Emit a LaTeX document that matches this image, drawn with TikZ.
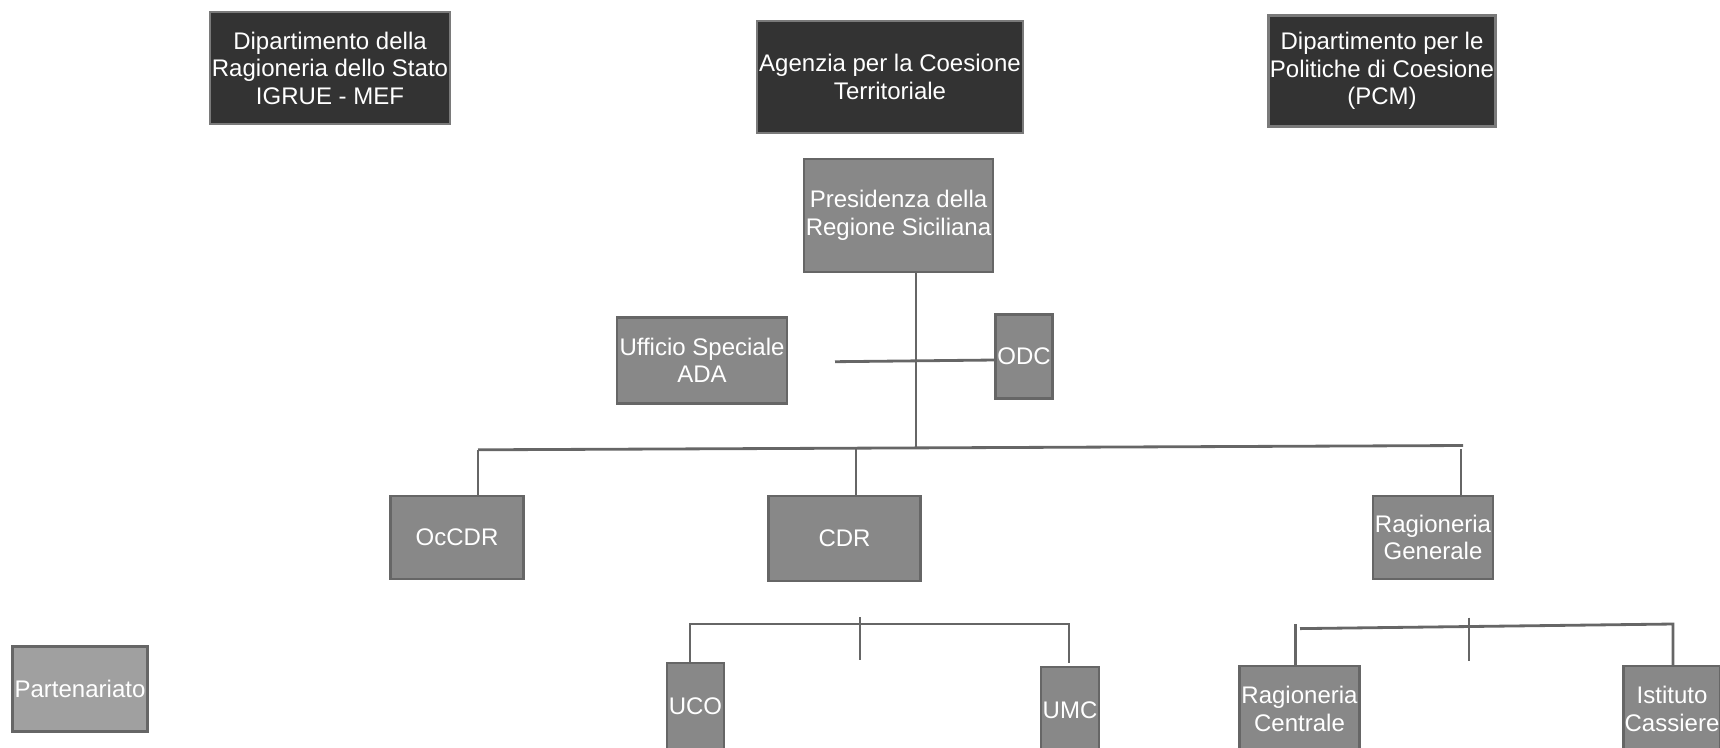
\documentclass[tikz,border=0pt]{standalone}
\usepackage{fontspec}
\setmainfont{Liberation Sans}
\usepackage{tikz}
\usetikzlibrary{calc}
\definecolor{darkfill}{HTML}{333333}
\definecolor{darkedge}{HTML}{7A7A7A}
\definecolor{midfill}{HTML}{888888}
\definecolor{lightfill}{HTML}{A0A0A0}
\definecolor{boxedge}{HTML}{666666}
\tikzstyle{dark}=[fill=darkfill, draw=darkedge]
\tikzstyle{unit}=[fill=midfill, draw=boxedge]
\tikzstyle{light}=[fill=lightfill, draw=boxedge]
\tikzstyle{wire}=[draw=boxedge, line width=.8pt]
\newcommand{\obox}[6]{
 \node[#1, line width=.6pt, text=white, inner sep=0pt, align=center, minimum width=#4cm, minimum height=#5cm, font=\fontsize{6.83}{7.82}\selectfont] (#2) at #3 {#6};
}

\begin{document}
\begin{tikzpicture}
 \useasboundingbox (0,0) rectangle (17.2,-7.47);
%
 \obox{dark}{igrue}{(3.30,-.68)}{2.40}{1.12}{Dipartimento della\\Ragioneria dello Stato\\IGRUE - MEF}
 \obox{dark}{act}{(8.90,-.77)}{2.66}{1.12}{Agenzia per la Coesione\\Territoriale}
 \obox{dark}{dpc}{(13.82,-.71)}{2.27}{1.11}{Dipartimento per le\\Politiche di Coesione\\(PCM)}
%
 \obox{unit}{pres}{(8.985,-2.155)}{1.89}{1.13}{Presidenza della\\Regione Siciliana}
 \obox{unit}{ada}{(7.02,-3.605)}{1.70}{.86}{Ufficio Speciale\\ADA}
 \obox{unit}{odc}{(10.24,-3.565)}{.57}{.84}{ODC}
%
 \obox{unit}{occdr}{(4.57,-5.375)}{1.33}{.83}{OcCDR}
 \obox{unit}{cdr}{(8.445,-5.385)}{1.52}{.85}{CDR}
 \obox{unit}{rg}{(14.33,-5.375)}{1.20}{.83}{Ragioneria\\Generale}
%
 \obox{light}{part}{(.80,-6.89)}{1.35}{.85}{Partenariato}
 \obox{unit}{uco}{(6.955,-7.06)}{.57}{.86}{UCO}
 \obox{unit}{umc}{(10.70,-7.10)}{.58}{.86}{UMC}
 \obox{unit}{rc}{(12.995,-7.09)}{1.20}{.86}{Ragioneria\\Centrale}
 \obox{unit}{ic}{(16.72,-7.09)}{.97}{.86}{Istituto\\Cassiere}
%
 \coordinate (hub) at (9.16,-4.48);
 \coordinate (adaEnd) at (8.35,-3.617);
 \coordinate (busL) at (4.78,-4.498);
 \coordinate (busR) at (14.63,-4.455);
 \coordinate (busC) at (8.56,-4.48);
 \coordinate (rgTop) at (14.61,-4.49);
 \draw[wire] (hub |- pres.south) -- (hub);
 \draw[wire] (adaEnd) -- ([yshift=-.035cm]odc.west);
 \draw[wire] (busL) -- (busR);
 \draw[wire] (busL) -- (busL |- occdr.north);
 \draw[wire] (busC) -- (busC |- cdr.north);
 \draw[wire] (rgTop) -- (rgTop |- rg.north);
%
 \coordinate (ucoJ) at (6.90,-6.24);
 \coordinate (umcJ) at (10.69,-6.24);
 \coordinate (cdrTick) at (8.60,-6.17);
 \draw[wire] (ucoJ |- uco.north) -- (ucoJ) -- (umcJ) -- ($(umcJ |- umc.north)+(0,.03)$);
 \draw[wire] (cdrTick) -- ++(0,-.43);
%
 \coordinate (rcJ) at (12.956,-6.24);
 \coordinate (rcBar) at (13.00,-6.286);
 \coordinate (icJ) at (16.73,-6.24);
 \coordinate (rgTick) at (14.69,-6.176);
 \draw[wire] (rcJ) -- (rcJ |- rc.north);
 \draw[wire] (rcBar) -- (icJ) -- (icJ |- ic.north);
 \draw[wire] (rgTick) -- ++(0,-.43);
\end{tikzpicture}
\end{document}
